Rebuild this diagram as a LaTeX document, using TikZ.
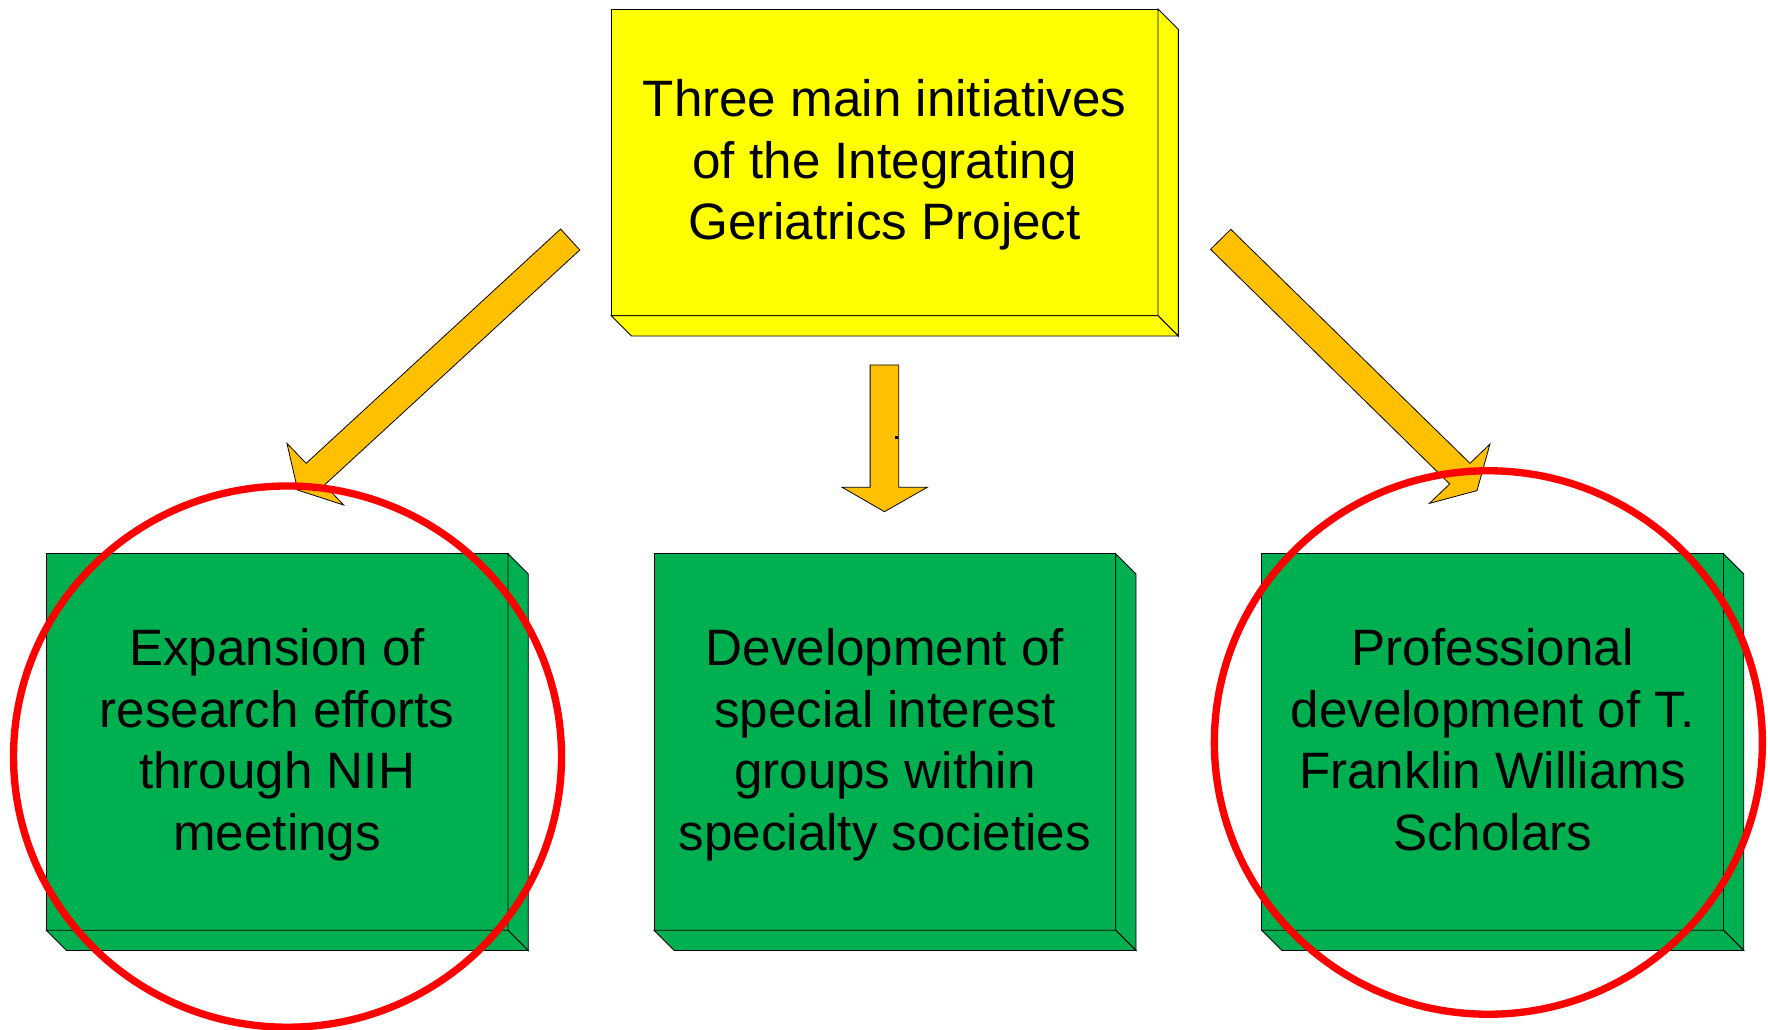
\documentclass[tikz,border=0pt]{standalone}
\usepackage{fontspec}
\setmainfont{Liberation Sans}
\definecolor{slabyellow}{RGB}{255,255,0}
\definecolor{slabgreen}{RGB}{0,176,80}
\definecolor{arrowgold}{RGB}{255,192,0}
\definecolor{ringred}{RGB}{255,0,0}
% a raised slab: front face node plus right and bottom side faces
% #1 name, #2 x, #3 y (top left), #4 width, #5 height, #6 colour, #7 text
\newcommand\slabbox[7]{%
  \node[face, fill=#6, minimum width=#4pt, minimum height=#5pt,
        anchor=north west] (#1) at (#2,#3) {};
  \draw[face, fill=#6] (#1.north east) -- ++(18,18) -- ++(0,#5)
        -- (#1.south east) -- cycle;
  \draw[face, fill=#6] (#1.south west) -- ++(18,18) -- ++(#4,0)
        -- (#1.south east) -- cycle;
  \node[label text] (#1-text) at ([yshift=-2.5pt]#1.center) {#7\vphantom{g}};
}
\begin{document}
\begin{tikzpicture}[x=1pt,y=-1pt,
  face/.style={draw=black, line width=0.8pt, line join=miter,
               inner sep=0pt, outer sep=0pt},
  label text/.style={align=center, text=black, inner sep=0pt,
                     font=\fontsize{45.4}{54.6}\selectfont},
  blockarrow/.style={fill=arrowgold, draw=black, line width=0.7pt,
                     line join=miter},
  ring/.style={draw=ringred, line width=6.5pt}]
\useasboundingbox (0,0) rectangle (1568,913);

% top initiative box
\slabbox{top}{542}{8}{485}{272}{slabyellow}%
  {Three main initiatives\\of the Integrating\\Geriatrics Project}

% the three initiatives
\slabbox{research}{41}{491}{409.5}{334}{slabgreen}%
  {Expansion of\\research efforts\\through NIH\\meetings}
\slabbox{groups}{580}{491}{409.5}{334}{slabgreen}%
  {Development of\\special interest\\groups within\\specialty societies}
\slabbox{scholars}{1119}{491}{409.5}{334}{slabgreen}%
  {Professional\\development of T.\\Franklin Williams\\Scholars}

% block arrows from the top box
\draw[blockarrow] (497.2,203.1) -- (271.5,410.9) -- (254.5,393.2)
  -- (264.0,434.6) -- (304.8,447.9) -- (287.8,430.1) -- (514.2,221.7) -- cycle;
\draw[blockarrow] (771.7,323.7) -- (797,323.7) -- (797,432.2) -- (822.3,432.2)
  -- (784.4,453.8) -- (746.9,432.2) -- (771.7,432.2) -- cycle;
\draw[blockarrow] (1091.6,203.4) -- (1303.7,410.9) -- (1321.4,393.8)
  -- (1309.9,435.1) -- (1267.7,446.4) -- (1285.7,429.2) -- (1073.6,221.1) -- cycle;
\fill[black] (793.5,386.5) rectangle ++(3,3);

% highlight rings
\draw[ring] (255,671) ellipse [x radius=243, y radius=240];
\draw[ring] (1320,658.5) ellipse [x radius=243, y radius=241];
\end{tikzpicture}
\end{document}
